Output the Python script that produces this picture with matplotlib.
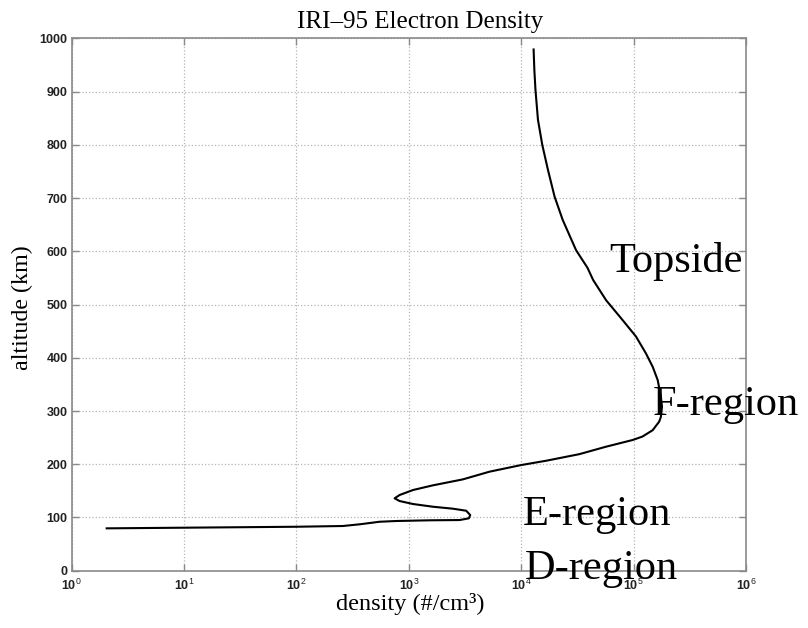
import matplotlib.pyplot as plt

# electron density profile (altitude in km, density in #/cm^3)
altitude = [979, 940, 903, 847, 800, 753, 703, 659, 602, 569, 546, 508, 474, 440,
            408, 383, 358, 327, 308, 289, 280, 264, 252, 245.5, 233, 219, 206.6,
            198.5, 186, 171.6, 160.4, 151.6, 142.2, 136, 130.9, 125.3, 120.2,
            116.5, 112.7, 104.6, 98.4, 95.2, 94.7, 93.4, 92, 87.2, 84, 82.6,
            80.8, 79.6]
density = [1.29e4, 1.31e4, 1.34e4, 1.41e4, 1.54e4, 1.73e4, 1.98e4, 2.34e4, 3.08e4,
           3.89e4, 4.37e4, 5.70e4, 7.76e4, 1.05e5, 1.29e5, 1.48e5, 1.64e5, 1.75e5,
           1.79e5, 1.75e5, 1.69e5, 1.48e5, 1.20e5, 9.8e4, 5.70e4, 3.30e4, 1.67e4,
           1.0e4, 5.22e3, 3.03e3, 1.64e3, 1.09e3, 828, 748, 828, 1.09e3, 1.64e3,
           2.47e3, 3.24e3, 3.52e3, 3.42e3, 2.83e3, 1.53e3, 774, 550, 366, 259,
           100, 9.8, 2.05]

x_exponents = [0, 1, 2, 3, 4, 5, 6]
y_ticks = [0, 100, 200, 300, 400, 500, 600, 700, 800, 900, 1000]

# region labels: (text, density, altitude)
regions = [('Topside', 10 ** 4.785, 561),
           ('F-region', 10 ** 5.167, 293),
           ('E-region', 10 ** 4.014, 86),
           ('D-region', 10 ** 4.03, -16)]

serif = 'Liberation Serif'
plt.rcParams['mathtext.fontset'] = 'custom'
plt.rcParams['mathtext.bf'] = 'Liberation Sans:bold'
plt.rcParams['mathtext.sf'] = 'Liberation Sans'
plt.rcParams['mathtext.rm'] = 'Liberation Sans'

fig = plt.figure(figsize=(8.08, 6.28), dpi=100)
ax = fig.add_axes([0.0887, 0.0912, 0.8345, 0.8478])

ax.plot(density, altitude, color='black', linewidth=1.5)

ax.set_xscale('log')
ax.set_xlim(1, 1e6)
ax.set_ylim(0, 1000)

ax.set_xticks([10.0 ** e for e in x_exponents],
              [r'$\mathbf{10}^{\mathsf{%d}}$' % e for e in x_exponents])
ax.minorticks_off()
ax.set_yticks(y_ticks, [str(v) for v in y_ticks])
for lab in ax.get_yticklabels():
    lab.set_fontfamily('Liberation Sans')
    lab.set_fontweight('bold')

axis_grey = '#8a8a8a'
ax.tick_params(direction='in', length=5, width=1, colors=axis_grey,
               top=True, right=True, labelsize=9, labelcolor='#222222')
ax.tick_params(axis='x', pad=5)
ax.tick_params(axis='y', pad=3)
for sp in ax.spines.values():
    sp.set_color(axis_grey)
    sp.set_linewidth(1.2)

ax.grid(True, which='major', linestyle=':', color='#b5b5b5', linewidth=0.9)

fig.text(0.52, 0.955, 'IRI\u201395 Electron Density', fontsize=18, family=serif,
         ha='center', va='baseline')
ax.set_xlabel('density (#/cm\u00b3)', fontsize=17.5, family=serif)
ax.xaxis.set_label_coords(0.502, -0.042)
ax.set_ylabel('altitude (km)', fontsize=17.3, family=serif)
ax.yaxis.set_label_coords(-0.057, 0.494)

for name, x, y in regions:
    ax.text(x, y, name, fontsize=30.5, family=serif, ha='left', va='baseline',
            clip_on=False)

fig.savefig('out.png', dpi=100)
